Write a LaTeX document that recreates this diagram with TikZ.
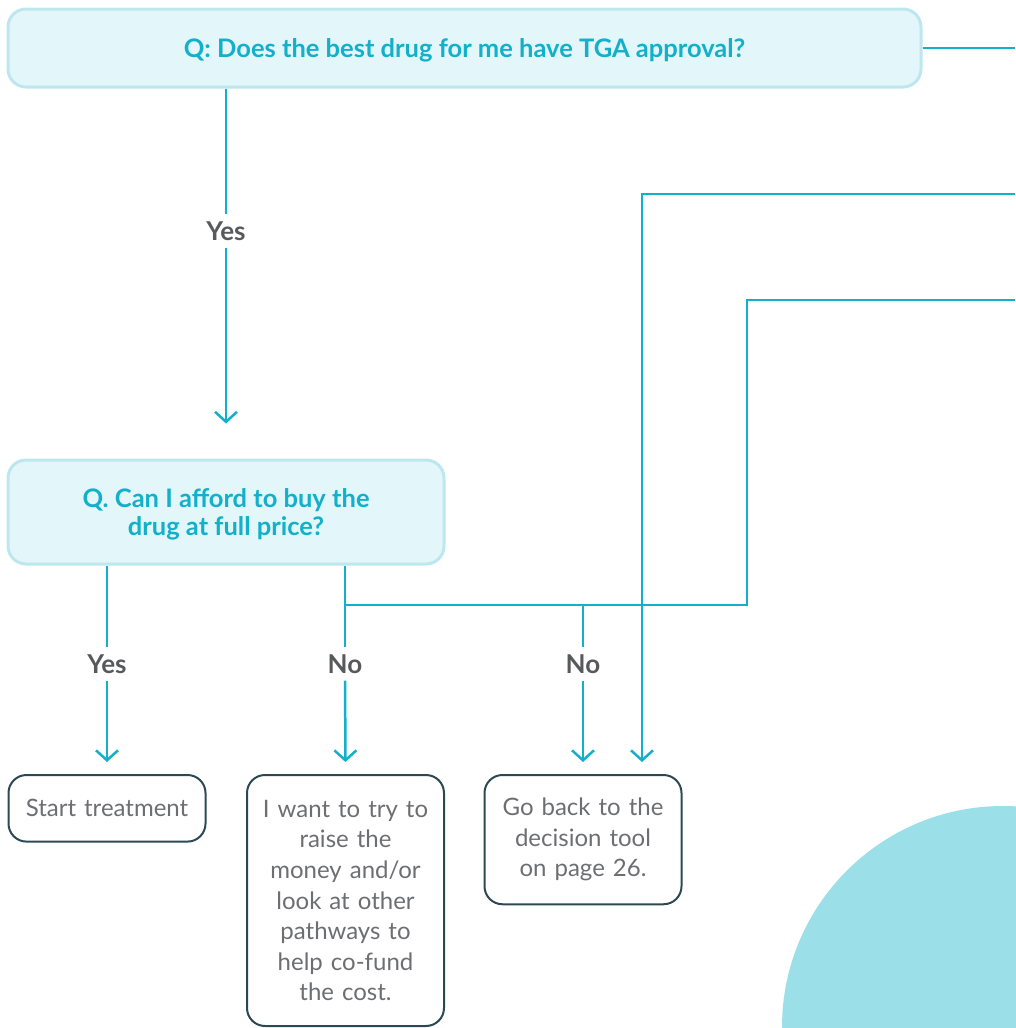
\documentclass[tikz,border=0pt]{standalone}
\usepackage{fontspec}
\setmainfont{Lato}
\usetikzlibrary{arrows.meta}
\definecolor{flowcyan}{HTML}{12B0CB}
\definecolor{qfill}{HTML}{E3F6F9}
\definecolor{qedge}{HTML}{BDE7EF}
\definecolor{labelgray}{HTML}{58595B}
\definecolor{textgray}{HTML}{6D6E71}
\definecolor{boxedge}{HTML}{2C4953}
\definecolor{blob}{HTML}{9BDFE9}
\tikzset{
  question/.style={rounded corners=18pt,fill=qfill,draw=qedge,line width=3pt,text=flowcyan,align=center,text depth=0pt,font={\bfseries\fontsize{25.5}{28}\selectfont}},
  answer/.style={rounded corners=18pt,draw=boxedge,line width=2pt,text=textgray,align=center,text width=185pt,inner xsep=6pt,inner ysep=24.5pt,anchor=north,font={\fontsize{24}{30.6}\selectfont}},
  choice/.style={text=labelgray,inner sep=7pt,font={\bfseries\fontsize{26}{28}\selectfont}},
  flow/.style={draw=flowcyan,line width=2.5pt},
  flowarrow/.style={flow,-{Straight Barb[length=10pt,width=22pt]}}
}
\begin{document}
\begin{tikzpicture}[x=1pt,y=-1pt]
\useasboundingbox (0,0) rectangle (1015,1028);
\fill[blob] (1003,1027) circle[radius=221];
% questions
\node[question,minimum width=913pt,minimum height=78pt] (q1) at (464.5,48) {Q: Does the best drug for me have TGA approval?};
\node[question,minimum width=436pt,minimum height=104pt] (q2) at (226,512) {Q. Can I afford to buy the\\ drug at full price?};
% answers
\node[answer] (a1) at (107,774) {Start treatment};
\node[answer,inner ysep=25pt] (a2) at (345.5,774) {I want to try to\\ raise the\\ money and/or\\ look at other\\ pathways to\\ help co-fund\\ the cost.};
\node[answer,inner ysep=23pt] (a3) at (583,774) {Go back to the\\ decision tool\\ on page 26.};
% yes / no
\node[choice] (yes1) at (226,231) {Yes};
\node[choice] (yes2) at (107,664) {Yes};
\node[choice] (no1) at (345,664) {No};
\node[choice] (no2) at (583,664) {No};
\coordinate (e1) at (1015,48);
\coordinate (e2) at (1015,194);
\coordinate (e3) at (1015,300);
\coordinate (k3) at (747,300);
\coordinate (j1) at (345,605);
\coordinate (j2) at (583,605);
\coordinate (tip3) at (642,762);
\draw[flow] (q1.east) -- (e1);
\draw[flow] (yes1 |- q1.south) -- (yes1);
\draw[flowarrow,shorten >=35pt] (yes1) -- (yes1 |- q2.north);
\draw[flow] (yes2 |- q2.south) -- (yes2);
\draw[flowarrow,shorten >=12pt] (yes2) -- (a1.north);
\draw[flow] (no1 |- q2.south) -- (no1);
\draw[flowarrow,shorten >=12pt] (no1) -- (a2.north);
\draw[flow] (j1) -| (k3) -- (e3);
\draw[flow] (j2) -- (no2);
\draw[flowarrow,shorten >=12pt] (no2) -- (a3.north);
\draw[flowarrow] (e2) -| (tip3);
\end{tikzpicture}
\end{document}
